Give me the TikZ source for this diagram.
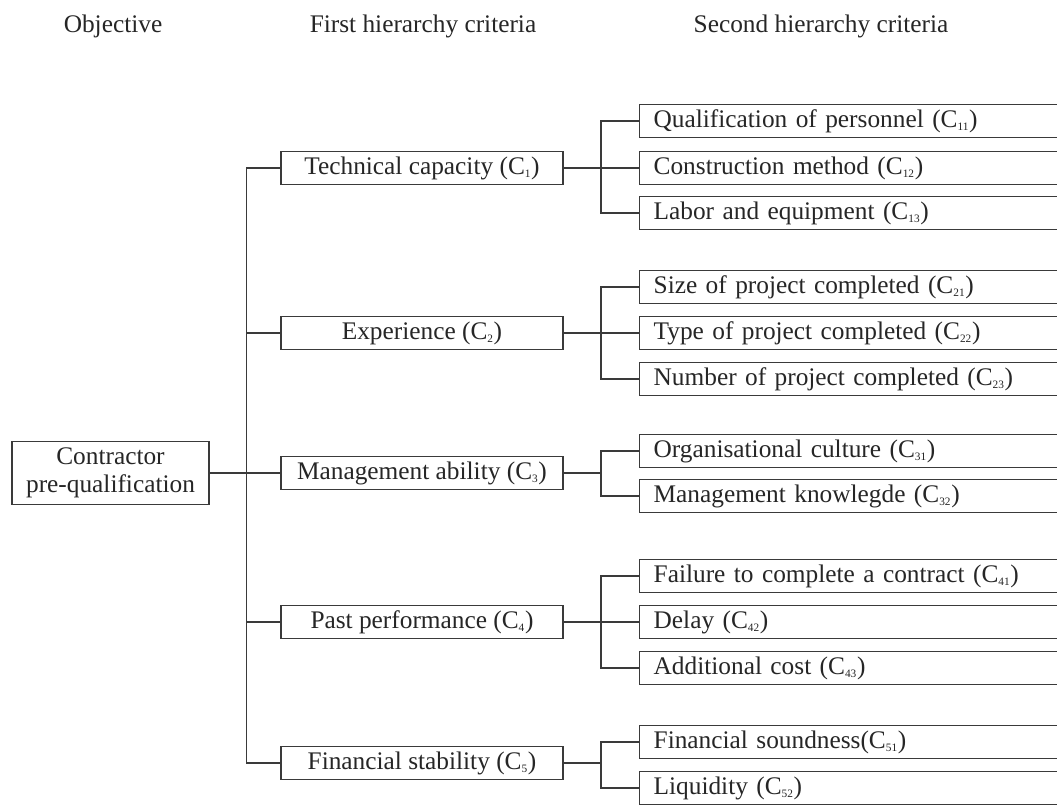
\documentclass[tikz,border=0pt]{standalone}
\usepackage{fontspec}
\setmainfont{Liberation Serif}
\newcommand\Csb[1]{C\textsubscript{\fontsize{8.5}{9}\selectfont #1}}
\definecolor{linec}{HTML}{3A3A3A}
\definecolor{textc}{HTML}{262626}
\tikzset{
  box/.style={draw=linec, line width=1pt, text=textc, font=\fontsize{19}{21}\selectfont, inner sep=0pt},
  lvlone/.style={box, minimum width=211.5pt, minimum height=24.5pt, align=center},
  lvltwo/.style={box, anchor=west, minimum width=330pt, minimum height=24.75pt, inner xsep=10.5pt, text width=309pt, align=left},
  conn/.style={draw=linec, line width=0.9pt},
  head/.style={text=textc, font=\fontsize{19}{21}\selectfont, inner sep=0pt}
}
\begin{document}
\begin{tikzpicture}[x=0.75pt,y=-0.75pt]
\useasboundingbox (0,0) rectangle (1057,805);
\clip (0,0) rectangle (1057,805);
\fill[white] (0,0) rectangle (1057,805);
% headers
\node[head] (h0) at (113,26) {Objective};
\node[head] (h1) at (423,26) {First hierarchy criteria};
\node[head] (h2) at (821,26) {Second hierarchy criteria};
% root
\node[box, minimum width=147.75pt, minimum height=47.25pt, align=center] (root) at (110.5,473) {Contractor\\pre-qualification};
% level one
\node[lvlone] (c1) at (422,168) {Technical capacity (\Csb{1})};
\node[lvlone] (c2) at (422,333) {Experience (\Csb{2})};
\node[lvlone] (c3) at (422,473) {Management ability (\Csb{3})};
\node[lvlone] (c4) at (422,622) {Past performance (\Csb{4})};
\node[lvlone] (c5) at (422,763) {Financial stability (\Csb{5})};
% level two
\node[lvltwo] (c11) at (639,121) {Qualification of personnel (\Csb{11})};
\node[lvltwo] (c12) at (639,168) {Construction method (\Csb{12})};
\node[lvltwo] (c13) at (639,213) {Labor and equipment (\Csb{13})};
\node[lvltwo] (c21) at (639,287) {Size of project completed (\Csb{21})};
\node[lvltwo] (c22) at (639,333) {Type of project completed (\Csb{22})};
\node[lvltwo] (c23) at (639,379) {Number of project completed (\Csb{23})};
\node[lvltwo] (c31) at (639,451) {Organisational culture (\Csb{31})};
\node[lvltwo] (c32) at (639,496) {Management knowlegde (\Csb{32})};
\node[lvltwo] (c41) at (639,576) {Failure to complete a contract (\Csb{41})};
\node[lvltwo] (c42) at (639,622) {Delay (\Csb{42})};
\node[lvltwo] (c43) at (639,668) {Additional cost (\Csb{43})};
\node[lvltwo] (c51) at (639,742) {Financial soundness(\Csb{51})};
\node[lvltwo] (c52) at (639,788) {Liquidity (\Csb{52})};
% connectors: root to level one
\draw[conn] (root.east) -- (c3.west);
\draw[conn] (c1.west) -- ++(-34,0) |- (c5.west);
\draw[conn] (c2.west) -- ++(-34,0);
\draw[conn] (c4.west) -- ++(-34,0);
% level one to level two
\draw[conn] (c1.east) -- (c12.west);
\draw[conn] (c11.west) -- ++(-38,0) |- (c13.west);
\draw[conn] (c2.east) -- (c22.west);
\draw[conn] (c21.west) -- ++(-38,0) |- (c23.west);
\draw[conn] (c3.east) -- ++(38,0);
\draw[conn] (c31.west) -- ++(-38,0) |- (c32.west);
\draw[conn] (c4.east) -- (c42.west);
\draw[conn] (c41.west) -- ++(-38,0) |- (c43.west);
\draw[conn] (c5.east) -- ++(38,0);
\draw[conn] (c51.west) -- ++(-38,0) |- (c52.west);
\end{tikzpicture}
\end{document}
